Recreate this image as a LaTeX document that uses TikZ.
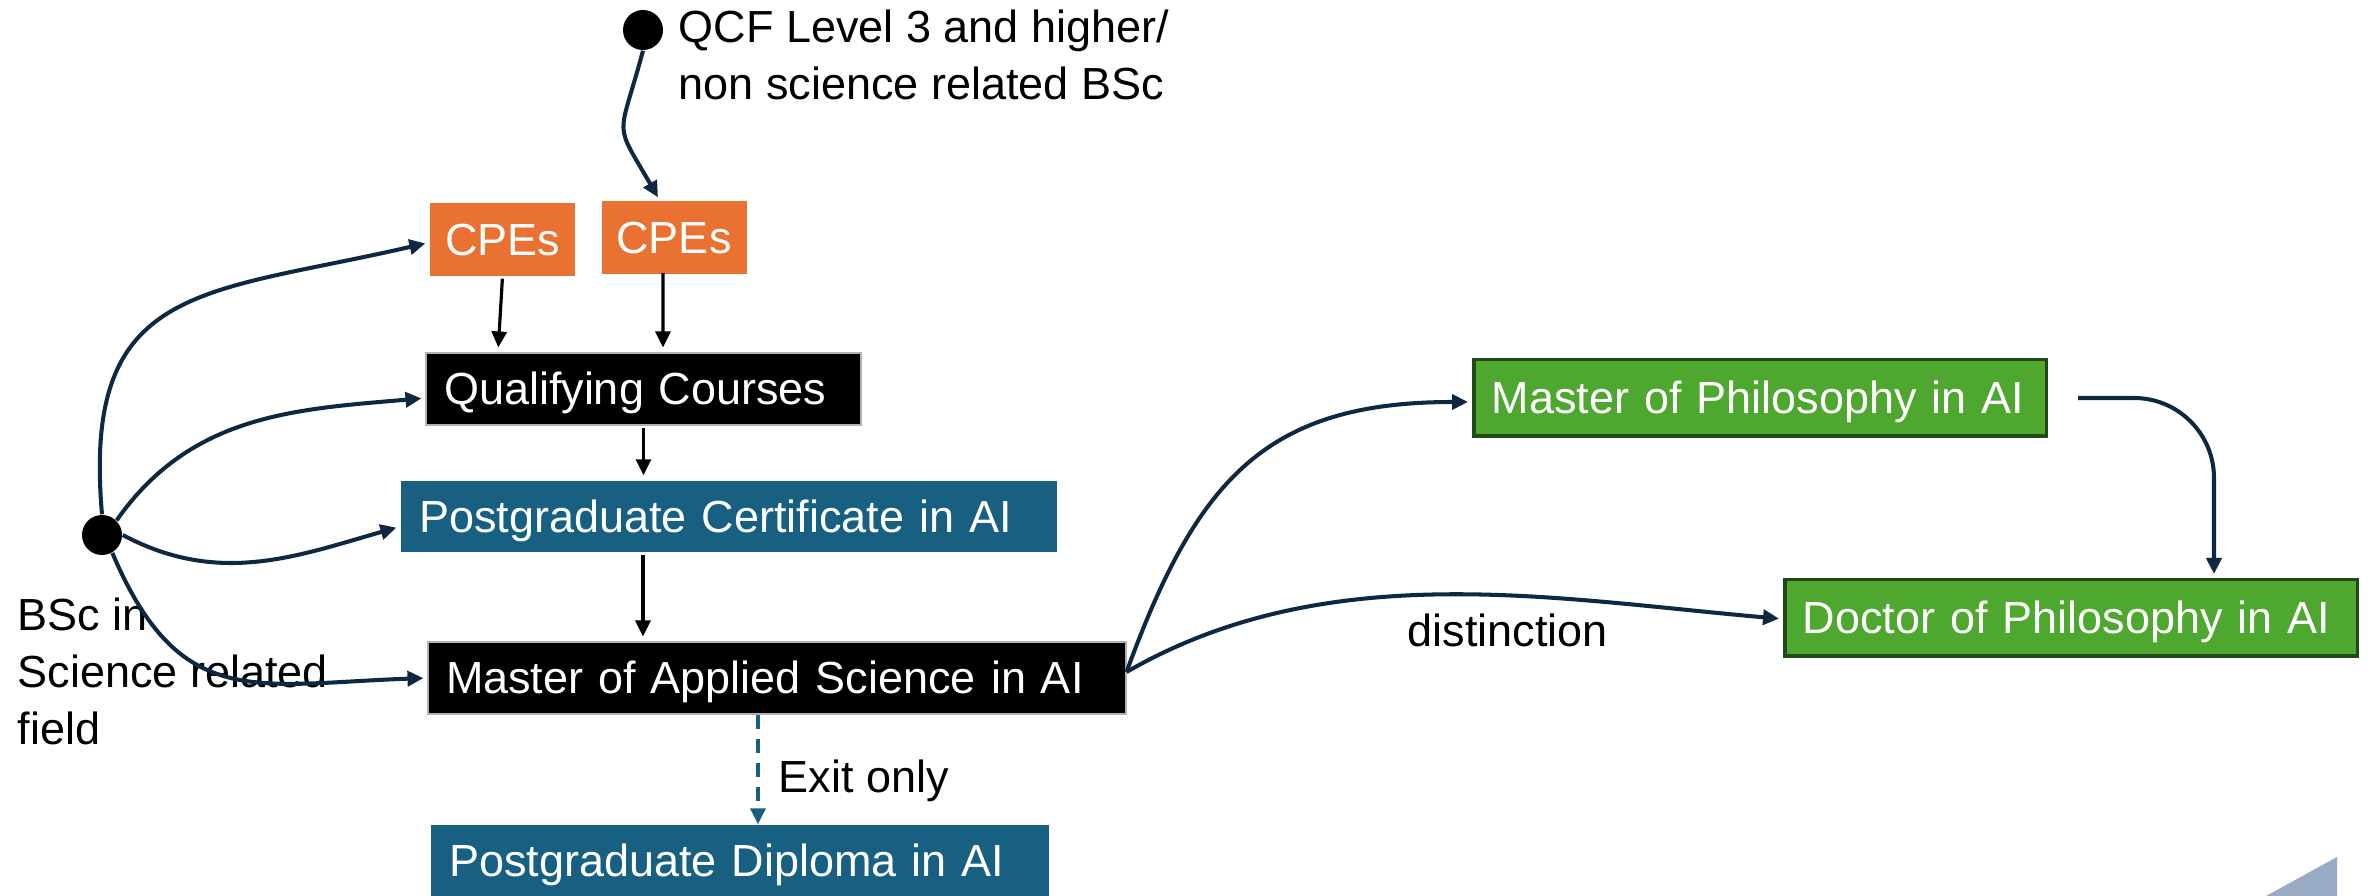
\documentclass[tikz,border=0pt]{standalone}
\usepackage{fontspec}
\setmainfont{Liberation Sans}
\usepackage{tikz}
\usetikzlibrary{arrows.meta}

\definecolor{arrownavy}{HTML}{0E2841}
\definecolor{cpeorange}{HTML}{E97132}
\definecolor{pgblue}{HTML}{186082}
\definecolor{phdgreen}{HTML}{4EA72E}
\definecolor{phdborder}{HTML}{1F4A15}
\definecolor{cornergray}{HTML}{98AAC4}

\begin{document}
\begin{tikzpicture}[
    inner sep=0pt,
    every node/.style={font=\fontsize{12.8pt}{16.2pt}\selectfont},
    course/.style={text=white,inner xsep=0.18cm,text height=0.32cm,text depth=0pt,align=left},
    cpebox/.style={course,fill=cpeorange,inner xsep=0pt,align=center,minimum width=1.45cm,minimum height=0.73cm},
    bluebox/.style={course,fill=pgblue,minimum height=0.71cm},
    blackbox/.style={course,fill=black,draw=gray!60,line width=0.3pt,minimum height=0.72cm},
    greenbox/.style={course,fill=phdgreen,draw=phdborder,line width=0.035cm,minimum height=0.765cm},
    dot/.style={circle,fill=black,minimum size=0.4cm},
    navyarrow/.style={draw=arrownavy,line width=1.15pt,shorten >=0.04cm,-{Triangle[length=0.16cm,width=0.15cm]}},
    plainarrow/.style={draw=black,line width=0.9pt,shorten >=0.05cm,shorten <=0.02cm,-{Triangle[length=0.16cm,width=0.15cm]}},
    exitarrow/.style={draw=pgblue,line width=1pt,dash pattern=on 0.14cm off 0.1cm,-{Triangle[length=0.16cm,width=0.15cm]}}
]
    \useasboundingbox (0,0) rectangle (23.69,-8.96);

    \node[dot] (qcf) at (6.43,-0.30) {};
    \node[anchor=north west,align=left] (qcflbl) at (6.78,-0.09) {QCF Level 3 and higher/\\non science related BSc};
    \node[dot] (bsc) at (1.02,-5.35) {};
    \node[anchor=north west,align=left] (bsclbl) at (0.17,-5.97) {BSc in\\Science related\\field};

    \node[cpebox] (cpeA) at (5.025,-2.395) {CPEs};
    \node[cpebox] (cpeB) at (6.74,-2.38) {CPEs};
    \node[blackbox,text width=3.99cm] (qc) at (6.435,-3.89) {Qualifying Courses};
    \node[bluebox,text width=6.20cm] (pgc) at (7.29,-5.165) {Postgraduate Certificate in AI};
    \node[blackbox,text width=6.62cm] (mas) at (7.77,-6.78) {Master of Applied Science in AI};
    \node[bluebox,text width=5.82cm] (pgd) at (7.40,-8.605) {Postgraduate Diploma in AI};
    \node[greenbox,text width=5.365cm] (mphil) at (17.60,-3.98) {Master of Philosophy in AI};
    \node[greenbox,text width=5.365cm] (phd) at (20.71,-6.18) {Doctor of Philosophy in AI};

    \node[anchor=base west] (exitlbl) at (7.78,-7.93) {Exit only};
    \node[anchor=base west] (distlbl) at (14.07,-6.47) {distinction};

    \draw[navyarrow] (qcf.south) to[out=-105,in=120,looseness=1.6] ([xshift=-0.14cm]cpeB.north);
    \draw[navyarrow] (bsc.north) to[out=95,in=193,looseness=1.4] ([yshift=-0.03cm]cpeA.west);
    \draw[navyarrow] (bsc.45) to[out=55,in=185] ([yshift=-0.09cm]qc.west);
    \draw[navyarrow] (bsc.east) to[out=-28,in=196] ([yshift=-0.1cm]pgc.west);
    \draw[navyarrow] (bsc.-60) to[out=-67,in=182,looseness=1.3] (mas.west);
    \draw[navyarrow] ([yshift=0.06cm]mas.east) to[out=70,in=180,looseness=1.2] ([yshift=-0.04cm]mphil.west);
    \draw[navyarrow] ([yshift=0.06cm]mas.east) to[out=30,in=175,looseness=0.9] ([yshift=-0.01cm]phd.west);
    \draw[navyarrow,rounded corners=0.8cm] ([xshift=0.3cm]mphil.east) -| ([xshift=1.43cm]phd.north);

    \draw[plainarrow] (cpeA.south) -- ([xshift=-1.455cm]qc.north);
    \draw[plainarrow] ([xshift=-0.11cm,yshift=0.04cm]cpeB.south) -- ([xshift=0.195cm]qc.north);
    \draw[plainarrow] (qc.south) -- (qc.south |- pgc.north);
    \draw[plainarrow] ([xshift=-0.86cm]pgc.south) -- ([xshift=-0.86cm]pgc.south |- mas.north);
    \draw[exitarrow] ([xshift=-0.19cm]mas.south) -- ([xshift=-0.19cm]mas.south |- pgd.north);

    \fill[cornergray] (22.66,-8.96) -- (23.37,-8.57) -- (23.37,-8.96) -- cycle;
\end{tikzpicture}
\end{document}
